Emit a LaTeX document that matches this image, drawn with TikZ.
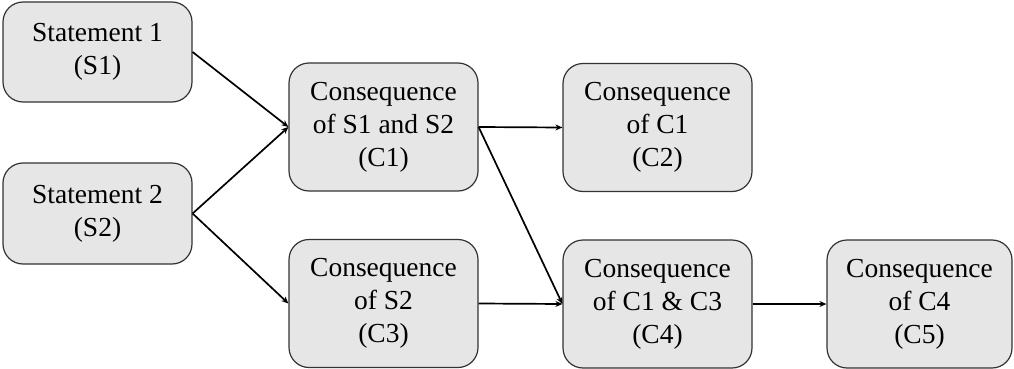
\documentclass[tikz,border=0pt]{standalone}
\usepackage{fontspec}
\setmainfont{Liberation Serif}
\usetikzlibrary{positioning,arrows.meta,calc}
\definecolor{boxfill}{HTML}{E7E6E6}
\definecolor{boxline}{HTML}{333333}

\begin{document}
\begin{tikzpicture}[x=1pt,y=-1pt,
  stmt/.style={draw=boxline, fill=boxfill, line width=1.2pt, rounded corners=20pt,
    minimum width=189pt, minimum height=128pt, inner sep=0pt, align=center,
    font=\fontsize{27.5}{33}\selectfont},
  link/.style={-{Stealth[length=7pt,width=6pt]}, line width=1.7pt}]
\useasboundingbox (0,0) rectangle (1014,369);
\node[stmt, minimum height=100pt] (s1) at (97.5,52) {Statement 1\\(S1)};
\node[stmt, minimum height=101pt] (s2) at (97.5,213.5) {Statement 2\\(S2)};
\node[stmt] (c1) at (383.5,127) {Consequence\\of S1 and S2\\(C1)};
\node[stmt] (c2) at (657.5,127.5) {Consequence\\of C1\\(C2)};
\node[stmt] (c3) at (383.5,303.5) {Consequence\\of S2\\(C3)};
\node[stmt] (c4) at (657.5,304) {Consequence\\of C1 \& C3\\(C4)};
\node[stmt, minimum width=185pt] (c5) at (919.5,304) {Consequence\\of C4\\(C5)};
\draw[link] (s1.east) -- (c1.west);
\draw[link] (s2.east) -- (c1.west);
\draw[link] (s2.east) -- (c3.west);
\draw[link] (c1.east) -- (c2.west);
\draw[link] (c1.east) -- (c4.west);
\draw[link] (c3.east) -- (c4.west);
\draw[link] (c4.east) -- (c5.west);
\end{tikzpicture}
\end{document}
